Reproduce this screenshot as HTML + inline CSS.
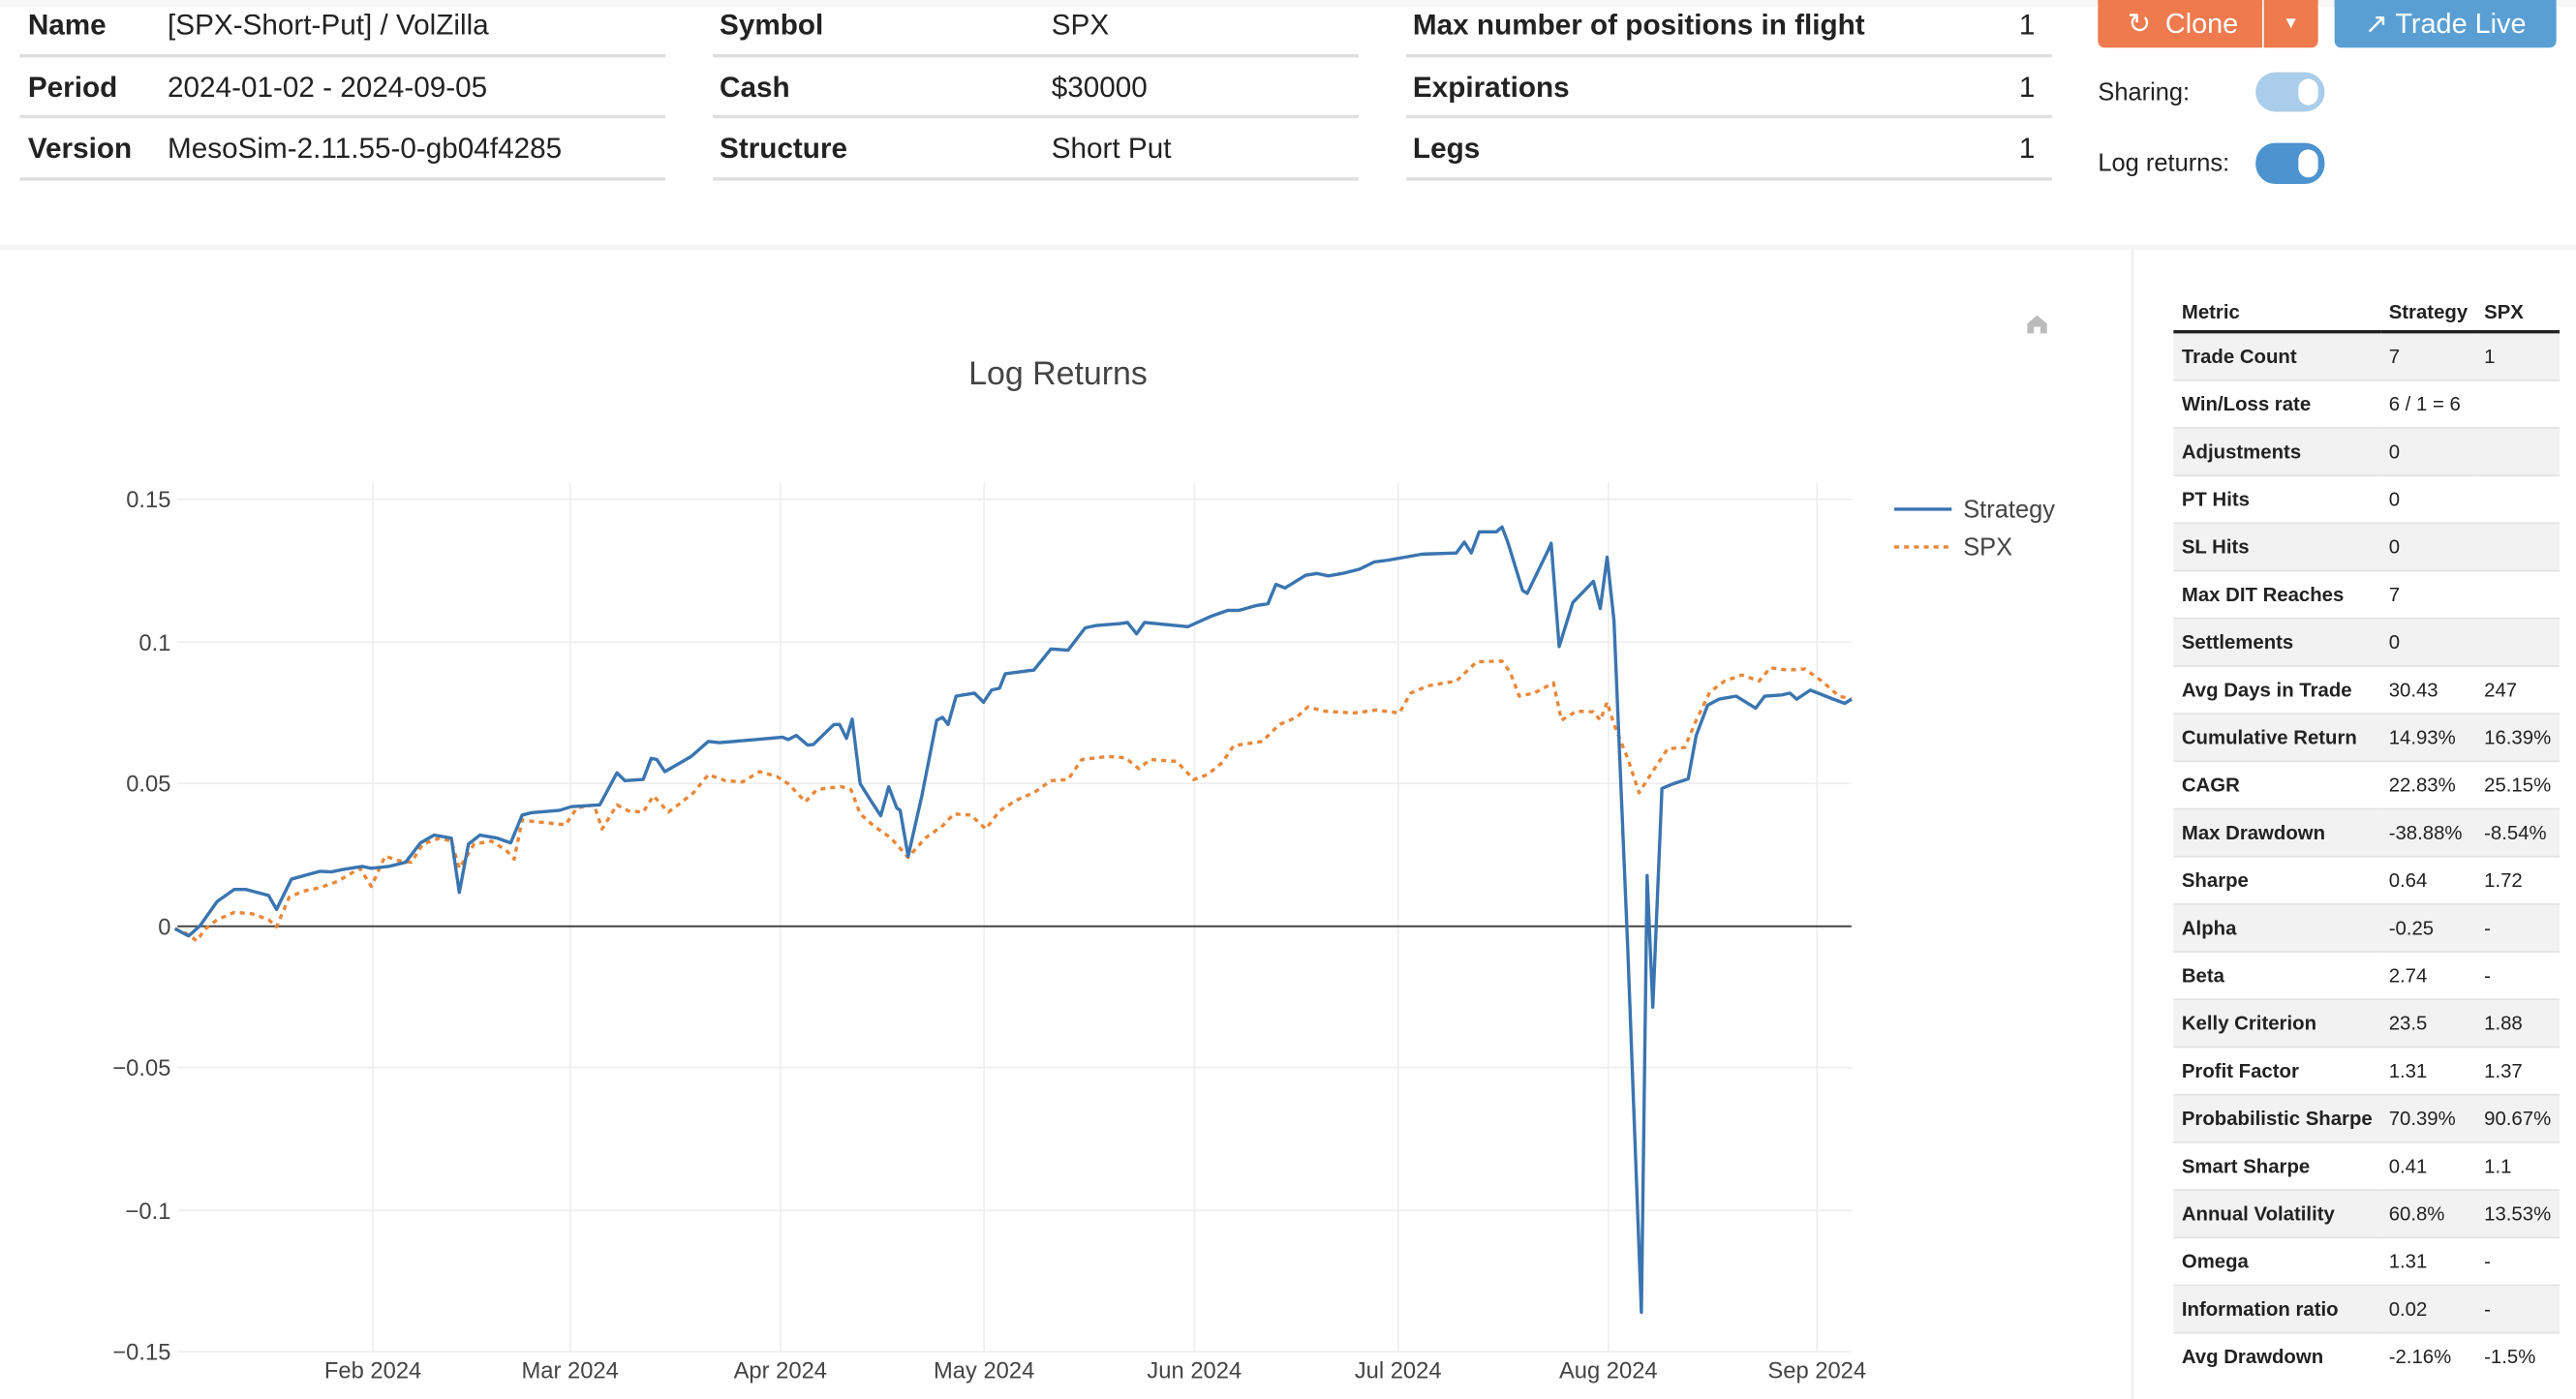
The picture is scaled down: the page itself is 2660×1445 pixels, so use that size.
<!DOCTYPE html>
<html><head><meta charset="utf-8"><style>
html,body{margin:0;padding:0;background:#fff;overflow:hidden;width:2660px;height:1434px}
#w{position:absolute;left:0;top:0;width:1568px;height:846px;transform:scale(1.69643);transform-origin:0 0;font-family:"Liberation Sans",Arial,sans-serif;color:#222}
.a{position:absolute;white-space:nowrap}
.hl{font-size:17.5px;font-weight:bold}
.hv{font-size:17.5px}
.ln{position:absolute;height:2px;background:#dedede}
table{border-collapse:collapse;font-size:12px;position:absolute;left:1323px;top:178px;width:233px;white-space:nowrap}
td,th{text-align:left;padding:0 5px;height:28px;border-top:1.5px solid #e2e2e2}
th{border-top:none;border-bottom:2px solid #222;height:23px}
td:first-child{font-weight:bold}
tr:nth-child(even) td{background:#f2f2f2}
</style></head><body><div id="w">
<div style="position:absolute;left:0;top:0;width:1568px;height:4px;background:#f7f7f7"></div>
<div style="position:absolute;left:0;top:149px;width:1568px;height:3px;background:#f5f5f5"></div>
<div style="position:absolute;left:1297px;top:152px;width:2px;height:700px;background:#f2f2f2"></div>

<div class="a hl" style="left:17px;top:5px">Name</div><div class="a hv" style="left:102px;top:5px">[SPX-Short-Put] / VolZilla</div>
<div class="a hl" style="left:17px;top:43px">Period</div><div class="a hv" style="left:102px;top:43px">2024-01-02 - 2024-09-05</div>
<div class="a hl" style="left:17px;top:80px">Version</div><div class="a hv" style="left:102px;top:80px">MesoSim-2.11.55-0-gb04f4285</div>
<div class="ln" style="left:12px;width:393px;top:33px"></div><div class="ln" style="left:12px;width:393px;top:70px"></div><div class="ln" style="left:12px;width:393px;top:108px"></div>

<div class="a hl" style="left:438px;top:5px">Symbol</div><div class="a hv" style="left:640px;top:5px">SPX</div>
<div class="a hl" style="left:438px;top:43px">Cash</div><div class="a hv" style="left:640px;top:43px">$30000</div>
<div class="a hl" style="left:438px;top:80px">Structure</div><div class="a hv" style="left:640px;top:80px">Short Put</div>
<div class="ln" style="left:434px;width:393px;top:33px"></div><div class="ln" style="left:434px;width:393px;top:70px"></div><div class="ln" style="left:434px;width:393px;top:108px"></div>

<div class="a hl" style="left:860px;top:5px">Max number of positions in flight</div><div class="a hv" style="left:1229px;top:5px">1</div>
<div class="a hl" style="left:860px;top:43px">Expirations</div><div class="a hv" style="left:1229px;top:43px">1</div>
<div class="a hl" style="left:860px;top:80px">Legs</div><div class="a hv" style="left:1229px;top:80px">1</div>
<div class="ln" style="left:856px;width:393px;top:33px"></div><div class="ln" style="left:856px;width:393px;top:70px"></div><div class="ln" style="left:856px;width:393px;top:108px"></div>

<div class="a" style="left:1277px;top:0;width:100px;height:29px;background:#ee7a4e;border-radius:0 0 0 4px;color:#fff;font-size:17px;line-height:29px"><span style="margin-left:18px">&#x21bb;</span> <span style="margin-left:4px">Clone</span></div>
<div class="a" style="left:1378px;top:0;width:33px;height:29px;background:#ee7a4e;border-radius:0 0 4px 0;color:#fff;font-size:10px;line-height:29px;text-align:center">&#9660;</div>
<div class="a" style="left:1421px;top:0;width:135px;height:29px;background:#5a9fd4;border-radius:0 0 4px 4px;color:#fff;font-size:17px;line-height:29px;text-align:center">&#x2197; Trade Live</div>
<div class="a" style="left:1277px;top:48px;font-size:15px">Sharing:</div>
<div class="a" style="left:1373px;top:44px;width:42px;height:24px;border-radius:12px;background:#a9cdea"><div style="position:absolute;right:4px;top:4px;width:12px;height:16px;border-radius:8px;background:#fff"></div></div>
<div class="a" style="left:1277px;top:91px;font-size:15px">Log returns:</div>
<div class="a" style="left:1373px;top:87px;width:42px;height:25px;border-radius:12px;background:#4c93cf"><div style="position:absolute;right:4px;top:4px;width:12px;height:17px;border-radius:8px;background:#fff"></div></div>

<svg class="a" style="left:0;top:150px" width="1297" height="696" viewBox="0 150 1297 696">
<g stroke="#eeeeee" stroke-width="1">
<line x1="108" x2="1127" y1="304" y2="304"/><line x1="108" x2="1127" y1="391" y2="391"/><line x1="108" x2="1127" y1="477" y2="477"/><line x1="108" x2="1127" y1="650" y2="650"/><line x1="108" x2="1127" y1="737" y2="737"/><line x1="108" x2="1127" y1="823" y2="823"/>
<line y1="294" y2="823" x1="227" x2="227"/><line y1="294" y2="823" x1="347" x2="347"/><line y1="294" y2="823" x1="475" x2="475"/><line y1="294" y2="823" x1="599" x2="599"/><line y1="294" y2="823" x1="727" x2="727"/><line y1="294" y2="823" x1="851" x2="851"/><line y1="294" y2="823" x1="979" x2="979"/><line y1="294" y2="823" x1="1106" x2="1106"/>
</g>
<line x1="108" x2="1127" y1="564" y2="564" stroke="#444" stroke-width="1.2"/>
<g font-size="14" fill="#444" text-anchor="end">
<text x="104" y="309">0.15</text><text x="104" y="396">0.1</text><text x="104" y="482">0.05</text><text x="104" y="569">0</text><text x="104" y="655">−0.05</text><text x="104" y="742">−0.1</text><text x="104" y="828">−0.15</text>
</g>
<g font-size="14" fill="#444" text-anchor="middle">
<text x="227" y="839">Feb 2024</text><text x="347" y="839">Mar 2024</text><text x="475" y="839">Apr 2024</text><text x="599" y="839">May 2024</text><text x="727" y="839">Jun 2024</text><text x="851" y="839">Jul 2024</text><text x="979" y="839">Aug 2024</text><text x="1106" y="839">Sep 2024</text>
</g>
<text x="644" y="234" font-size="20" fill="#444" text-anchor="middle">Log Returns</text>
<path d="M1234 197 l6 -5 6 5 v6 h-4 v-4 h-4 v4 h-4z" fill="#bbb"/>
<line x1="1153" x2="1188" y1="310" y2="310" stroke="#3a75b0" stroke-width="2"/>
<line x1="1153" x2="1188" y1="333" y2="333" stroke="#e8883a" stroke-width="2" stroke-dasharray="3,3"/>
<text x="1195" y="315" font-size="15" fill="#444">Strategy</text><text x="1195" y="338" font-size="15" fill="#444">SPX</text>
<g transform="matrix(0.6952 0 0 0.3678 59.2 271.2)" fill="none" stroke-linejoin="round">
<path vector-effect="non-scaling-stroke" stroke="#e8883a" stroke-width="2" stroke-dasharray="3,3" d="M68,800 78,808 87,820 95,800 105,785 120,773 135,775 150,785 157,797 168,748 180,738 195,732 210,722 230,700 240,730 252,680 265,688 275,690 285,660 300,650 310,655 317,700 330,660 345,655 358,670 365,685 372,620 380,622 395,625 410,628 420,600 435,595 442,635 455,595 465,605 478,607 487,580 500,607 510,593 522,575 535,545 550,555 565,557 580,540 595,548 605,560 620,590 630,570 640,567 652,565 660,570 668,610 680,630 695,650 710,682 725,650 740,630 750,610 765,612 778,635 790,605 805,587 820,575 835,555 850,553 862,520 885,515 900,517 912,535 922,520 945,523 960,553 972,545 985,525 995,497 1020,490 1035,462 1050,450 1060,433 1075,440 1100,443 1120,438 1140,443 1150,410 1165,398 1190,390 1208,358 1230,357 1237,375 1245,415 1258,410 1275,393 1282,455 1295,440 1310,441 1316,455 1322,425 1328,462 1340,518 1350,575 1360,545 1375,502 1390,500 1400,455 1412,408 1425,390 1440,380 1455,390 1465,368 1480,372 1495,370 1510,390 1525,415 1536,420"/>
<path vector-effect="non-scaling-stroke" stroke="#3a75b0" stroke-width="2" d="M68,800 80,812 90,795 105,755 120,735 130,735 150,745 157,768 170,718 185,710 195,705 205,706 215,702 232,697 240,700 255,697 270,690 283,658 295,645 310,650 317,740 325,660 335,645 350,650 362,658 372,612 380,608 405,604 415,598 440,595 455,542 462,555 478,553 485,518 490,520 497,540 520,515 535,490 545,492 570,488 600,483 605,487 612,480 622,496 627,495 645,462 650,462 656,485 661,453 668,560 678,590 686,613 693,565 700,600 703,604 710,680 722,580 735,455 740,450 745,462 752,415 768,410 776,425 783,405 790,402 795,378 815,373 820,372 835,337 850,339 865,302 875,298 895,295 902,293 910,312 917,293 955,300 975,283 990,273 1000,273 1015,265 1025,262 1032,230 1040,236 1058,215 1068,212 1078,216 1090,212 1105,205 1118,193 1130,190 1160,180 1190,178 1197,160 1203,178 1210,143 1225,143 1230,135 1235,160 1248,240 1252,245 1270,175 1273,162 1280,333 1292,260 1310,225 1316,270 1322,185 1328,290 1340,830 1352,1435 1357,712 1362,930 1370,568 1380,560 1393,552 1400,480 1410,430 1420,420 1435,415 1452,435 1460,415 1475,413 1482,410 1488,420 1500,405 1520,420 1530,427 1536,420"/>
</g>
</svg>

<table>
<tr><th style="width:116px">Metric</th><th style="width:48px">Strategy</th><th>SPX</th></tr>
<tr><td>Trade Count</td><td>7</td><td>1</td></tr>
<tr><td>Win/Loss rate</td><td>6 / 1 = 6</td><td></td></tr>
<tr><td>Adjustments</td><td>0</td><td></td></tr>
<tr><td>PT Hits</td><td>0</td><td></td></tr>
<tr><td>SL Hits</td><td>0</td><td></td></tr>
<tr><td>Max DIT Reaches</td><td>7</td><td></td></tr>
<tr><td>Settlements</td><td>0</td><td></td></tr>
<tr><td>Avg Days in Trade</td><td>30.43</td><td>247</td></tr>
<tr><td>Cumulative Return</td><td>14.93%</td><td>16.39%</td></tr>
<tr><td>CAGR</td><td>22.83%</td><td>25.15%</td></tr>
<tr><td>Max Drawdown</td><td>-38.88%</td><td>-8.54%</td></tr>
<tr><td>Sharpe</td><td>0.64</td><td>1.72</td></tr>
<tr><td>Alpha</td><td>-0.25</td><td>-</td></tr>
<tr><td>Beta</td><td>2.74</td><td>-</td></tr>
<tr><td>Kelly Criterion</td><td>23.5</td><td>1.88</td></tr>
<tr><td>Profit Factor</td><td>1.31</td><td>1.37</td></tr>
<tr><td>Probabilistic Sharpe</td><td>70.39%</td><td>90.67%</td></tr>
<tr><td>Smart Sharpe</td><td>0.41</td><td>1.1</td></tr>
<tr><td>Annual Volatility</td><td>60.8%</td><td>13.53%</td></tr>
<tr><td>Omega</td><td>1.31</td><td>-</td></tr>
<tr><td>Information ratio</td><td>0.02</td><td>-</td></tr>
<tr><td>Avg Drawdown</td><td>-2.16%</td><td>-1.5%</td></tr>
</table>
</div></body></html>
